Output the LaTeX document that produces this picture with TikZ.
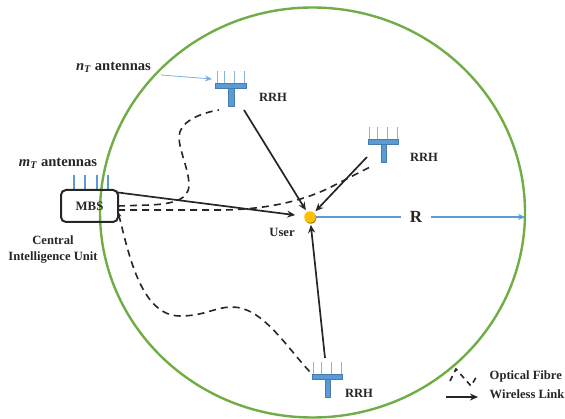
\documentclass[tikz,border=0pt]{standalone}
\usepackage{fontspec}
\setmainfont{Liberation Serif}
\usetikzlibrary{arrows.meta}
\definecolor{ringgreen}{HTML}{70AD47}
\definecolor{antblue}{HTML}{5B9BD5}
\definecolor{inkdark}{HTML}{262626}
\definecolor{userdot}{HTML}{FFC000}
\tikzset{
  lbl/.style={font=\fontsize{12.6}{14}\selectfont\bfseries, text=inkdark, inner sep=0pt},
  lblbig/.style={font=\fontsize{14.6}{16}\selectfont\bfseries, text=inkdark, inner sep=0pt},
  fibre/.style={draw=inkdark, line width=1.6pt, dash pattern=on 7pt off 5pt},
  wireless/.style={draw=inkdark, line width=1.7pt, -{Stealth[length=8pt,width=7pt]}},
  rad/.style={draw=antblue, line width=1.3pt},
  pics/rrh/.style={code={
    \foreach \a in {1.5,9,19,29}{\draw[draw=antblue!75, line width=1pt] (\a,0) -- (\a,-12);}
    \fill[antblue, draw=antblue!80!black, line width=0.4pt] (0,0) rectangle (30.5,5);
    \fill[antblue, draw=antblue!80!black, line width=0.4pt] (13,5) rectangle (18.5,23);
  }}
}
\begin{document}
\begin{tikzpicture}[x=1pt,y=-1pt]
\useasboundingbox (0,0) rectangle (565,419);
\draw[ringgreen, line width=2.4pt] (312.5,212.5) ellipse [x radius=212.5, y radius=205];
% antennas
\pic at (215.5,83) {rrh};
\pic at (368,139) {rrh};
\pic at (312,374) {rrh};
\foreach \a in {74,85,97,108}{\draw[draw=antblue, line width=1.5pt] (\a,175) -- (\a,190);}
% nodes
\node[draw=inkdark, line width=2pt, rounded corners=5pt, minimum width=57pt, minimum height=32pt, inner sep=0pt, font=\fontsize{12.8}{14}\selectfont\bfseries, text=inkdark] (mbs) at (89.5,206) {MBS};
\fill[userdot!60!black] (310.6,218) circle (5.7pt);
\node[circle, fill=userdot, minimum size=11.5pt, inner sep=0pt] (user) at (310,217) {};
\node[lbl] (rrha) at (273,97) {RRH};
\node[lbl] (rrhb) at (424,157.5) {RRH};
\node[lbl] (rrhc) at (359,393.5) {RRH};
\node[lbl] (userlbl) at (282,232) {User};
\node[lblbig] (nt) at (113.5,67) {\textit{n}\textsubscript{\textit{T}} antennas};
\node[lblbig] (mt) at (58,163) {\textit{m}\textsubscript{\textit{T}} antennas};
\node[lbl] (cen) at (53,240) {Central};
\node[lbl] (ciu) at (53,258) {Intelligence Unit};
\node[font=\fontsize{17}{19}\selectfont\bfseries, text=inkdark, inner sep=9pt] (r) at (416,217) {R};
\node[lbl, anchor=west] (leg1) at (489.5,376) {Optical Fibre};
\node[lbl, anchor=west] (leg2) at (489.5,394) {Wireless Link};
% anchor points
\coordinate (a1) at (244,110);
\coordinate (a2) at (367,157);
\coordinate (a3) at (325,358);
\coordinate (edge) at (525,217);
\coordinate (n1) at (161,75);
\coordinate (n2) at (212,79);
\coordinate (l1) at (450,381);
\coordinate (l2) at (446,397);
\coordinate (l3) at (478,397);
\coordinate (l4) at (478,374);
% dashed fibres
\draw[fibre] (118,206) -- (150,205) .. controls (172,204) and (189,200) .. (189,185) .. controls (189,170) and (179,150) .. (179,137) .. controls (179,122) and (200,113) .. (219,110);
\draw[fibre] (118,210) -- (225,210) .. controls (262,209) and (300,203) .. (333,186) -- (370,167);
\draw[fibre, {Stealth[length=5pt,width=4.5pt]}-] (118,212) .. controls (128,250) and (140,316) .. (180,316) .. controls (205,316) and (215,307) .. (232,307) .. controls (262,307) and (285,345) .. (310,372);
% wireless
\draw[wireless, shorten >=9pt] (118,192.5) -- (user);
\draw[wireless, shorten >=2pt] (a1) -- (user);
\draw[wireless, shorten >=2pt] (a2) -- (user);
\draw[wireless, shorten >=2pt] (a3) -- (user);
% radius
\draw[rad] (user) -- (r);
\draw[rad, -{Stealth[length=7pt,width=6pt]}] (r) -- (edge);
\draw[draw=antblue!80, line width=0.8pt, -{Stealth[length=7pt,width=6pt]}] (n1) -- (n2);
% legend
\draw[fibre, dash pattern=on 5.5pt off 4.5pt] (l1) -- (456,369) -- (471,386) -- (l4);
\draw[wireless] (l2) -- (l3);
\end{tikzpicture}
\end{document}
